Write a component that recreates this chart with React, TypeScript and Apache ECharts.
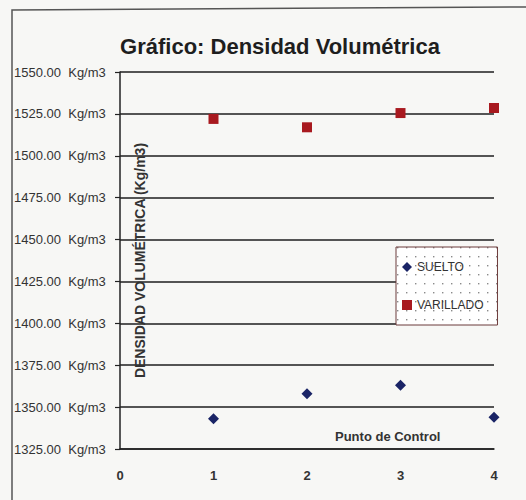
import React, { useEffect, useRef } from "react";
import * as echarts from "echarts";

const puntos = [1, 2, 3, 4];
const suelto = [1343, 1358, 1363, 1344];
const varillado = [1522, 1517, 1525.5, 1528.5];
const yTicks = { min: 1325, max: 1550, interval: 25 };
const xTicks = { min: 0, max: 4, interval: 1 };
const seriesNames = ["SUELTO", "VARILLADO"];

function makeDots(): HTMLCanvasElement {
  const c = document.createElement("canvas");
  c.width = 9;
  c.height = 9;
  const ctx = c.getContext("2d")!;
  ctx.fillStyle = "#ffffff";
  ctx.fillRect(0, 0, 9, 9);
  ctx.fillStyle = "#8a8a8a";
  ctx.fillRect(4, 4, 1.4, 1.4);
  return c;
}

export default function App() {
  const ref = useRef<HTMLDivElement>(null);
  useEffect(() => {
    document.body.style.margin = "0";
    const chart = echarts.init(ref.current!, null, { renderer: "svg" });
    const font = "'Liberation Sans', Arial, sans-serif";
    chart.setOption({
      animation: false,
      backgroundColor: "#f7f7f5",
      title: {
        text: "Gráfico: Densidad Volumétrica",
        left: 275,
        textAlign: "center",
        top: 30,
        textStyle: { fontFamily: font, fontWeight: "bold", fontSize: 22, color: "#1e1e1e" },
      },
      grid: { left: 120, right: 32, top: 72, bottom: 51, outerBoundsMode: "none" } as any,
      legend: {
        orient: "vertical",
        left: 396,
        top: 247,
        itemGap: 26,
        padding: [14, 14, 14, 6],
        itemWidth: 10,
        itemHeight: 10,
        borderColor: "#6b3a3a",
        borderWidth: 1,
        backgroundColor: { image: makeDots(), repeat: "repeat" } as any,
        textStyle: { fontFamily: font, fontSize: 12, color: "#333" },
        data: seriesNames,
      },
      xAxis: {
        type: "value",
        min: xTicks.min,
        max: xTicks.max,
        interval: xTicks.interval,
        axisLine: { show: true, lineStyle: { color: "#222", width: 1.5 } },
        axisTick: { show: false },
        splitLine: { show: false },
        axisLabel: { margin: 20, fontFamily: font, fontSize: 13, fontWeight: "bold", color: "#333" },
      },
      yAxis: {
        type: "value",
        min: yTicks.min,
        max: yTicks.max,
        interval: yTicks.interval,
        name: "DENSIDAD VOLUMÉTRICA (Kg/m3)",
        nameLocation: "middle",
        nameRotate: 90,
        nameGap: -27,
        nameMoveOverlap: false,
        nameTextStyle: { fontFamily: font, fontSize: 14, fontWeight: "bold", color: "#333" },
        axisLine: { show: true, lineStyle: { color: "#222", width: 1.5 } },
        axisTick: { show: true, length: 5, lineStyle: { color: "#222", width: 1.2 } },
        splitLine: { show: true, lineStyle: { color: "#1e1e1e", width: 1.5 } },
        axisLabel: {
          align: "left",
          margin: 106,
          fontFamily: font,
          fontSize: 13,
          color: "#333",
          formatter: (v: number) => v.toFixed(2) + "  Kg/m3",
        },
      } as any,
      graphic: [
        {
          type: "polyline",
          shape: { points: [[12, 500], [12, 10], [526, 7]] },
          style: { stroke: "#555", lineWidth: 1.5, fill: "none" },
        },
        {
          type: "text",
          left: 335,
          top: 430,
          style: { text: "Punto de Control", fontFamily: font, fontSize: 13, fontWeight: "bold", fill: "#333" },
        },
      ],
      series: [
        {
          name: seriesNames[0],
          type: "scatter",
          symbol: "diamond",
          symbolSize: 11,
          itemStyle: { color: "#1a2466", opacity: 1 },
          data: puntos.map((p, i) => [p, suelto[i]]),
        },
        {
          name: seriesNames[1],
          type: "scatter",
          symbol: "rect",
          symbolSize: 10,
          itemStyle: { color: "#a8191f", opacity: 1 },
          data: puntos.map((p, i) => [p, varillado[i]]),
        },
      ],
    });
    return () => chart.dispose();
  }, []);
  return <div ref={ref} style={{ width: 526, height: 500 }} />;
}
